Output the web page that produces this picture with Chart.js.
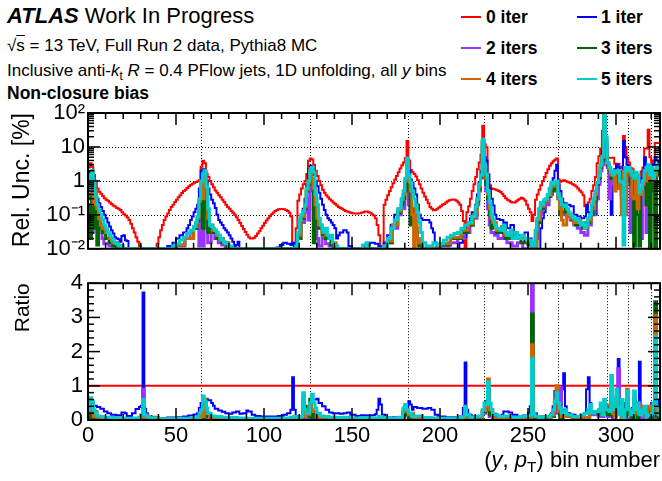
<!DOCTYPE html>
<html><head><meta charset="utf-8">
<script src="https://cdn.jsdelivr.net/npm/chart.js@4/dist/chart.umd.min.js"></script>
<style>
body{margin:0;background:#fff;}
#wrap{position:relative;width:662px;height:481px;overflow:hidden;font-family:"Liberation Sans",Arial,Helvetica,sans-serif;color:#000;}
.t{position:absolute;white-space:nowrap;line-height:1;}
canvas{position:absolute;left:0;}
.leg{position:absolute;font-weight:bold;font-size:17.5px;line-height:1;white-space:nowrap;}
.sw{position:absolute;height:2px;width:20px;}
sub{font-size:0.7em;vertical-align:-0.3em;line-height:0;}
</style></head><body>
<div id="wrap">
 <div class="t" style="left:7px;top:5px;font-size:22px;"><b><i>ATLAS</i></b> Work In Progress</div>
 <div class="t" style="left:7px;top:37px;font-size:17px;">√<span style="text-decoration:overline">s</span> = 13 TeV, Full Run 2 data, Pythia8 MC</div>
 <div class="t" style="left:7px;top:62px;font-size:17px;">Inclusive anti-<i>k</i><sub>t</sub> <i>R</i> = 0.4 PFlow jets, 1D unfolding, all <i>y</i> bins</div>
 <div class="t" style="left:7px;top:85px;font-size:17.5px;font-weight:bold;">Non-closure bias</div>
 <div id="legend"></div>
 <canvas id="cTop" width="662" height="265" style="top:0px"></canvas>
 <canvas id="cBot" width="662" height="216" style="top:265px"></canvas>
 <div class="t" style="right:2px;top:449px;font-size:22px;">(<i>y</i>, <i>p</i><sub>T</sub>) bin number</div>
</div>
<script>
// ---------------- data ----------------
const X_MAX = 325;
const yBinEdges = [64, 126, 182, 225, 267, 295, 307, 320];
const xTicks = [0, 50, 100, 150, 200, 250, 300];
const logTicks = [0.01, 0.1, 1, 10, 100];
const logLabels = ['10⁻²', '10⁻¹', '1', '10', '10²'];
const ratioTicks = [0, 1, 2, 3, 4];
const seriesNames = ['0 iter', '1 iter', '2 iters', '3 iters', '4 iters', '5 iters'];
const seriesColors = ['#ff0000', '#0000ff', '#9933ff', '#006600', '#cc6600', '#00cccc'];

// Top panel: relative uncertainty [%], [bin, value] (value holds until next bin)
const iter0Top = [[0,2.5],[1,3.3],[2,2.6],[3,1.5],[4,0.9],[5,0.6],[6,0.48],[7,0.42],[8,0.36],[9,0.31],[10,0.28],[11,0.26],[12,0.23],[13,0.21],[14,0.19],[15,0.175],[16,0.16],[17,0.15],[18,0.14],[19,0.12],[20,0.105],[21,0.095],[22,0.083],[23,0.07],[24,0.055],[25,0.04],[26,0.03],[27,0.022],[28,0.016],[29,0.012],[30,0.01],[39,0.014],[40,0.022],[41,0.035],[42,0.05],[43,0.07],[44,0.09],[45,0.11],[46,0.14],[47,0.17],[48,0.2],[49,0.24],[50,0.28],[51,0.33],[52,0.38],[53,0.44],[54,0.5],[55,0.55],[56,0.62],[57,0.7],[58,0.76],[59,0.82],[60,0.88],[61,0.93],[62,0.98],[63,1.05],[64,2.6],[65,3.9],[66,3.3],[67,1.6],[68,1.3],[69,1.0],[70,0.8],[71,0.65],[72,0.52],[73,0.45],[74,0.38],[75,0.33],[76,0.28],[77,0.24],[78,0.2],[79,0.17],[80,0.15],[81,0.13],[82,0.115],[83,0.1],[84,0.085],[85,0.07],[86,0.058],[87,0.047],[88,0.038],[89,0.031],[90,0.026],[91,0.022],[92,0.02],[94,0.021],[95,0.024],[96,0.028],[97,0.033],[98,0.04],[99,0.048],[100,0.058],[101,0.068],[102,0.08],[103,0.092],[104,0.105],[105,0.118],[106,0.13],[107,0.138],[108,0.145],[109,0.148],[111,0.145],[112,0.14],[113,0.13],[114,0.115],[115,0.09],[116,0.013],[118,0.04],[119,0.26],[120,0.4],[121,0.6],[122,0.8],[123,1.0],[124,1.6],[125,3.9],[126,4.6],[127,4.3],[128,3.0],[129,2.0],[130,1.4],[131,1.0],[132,0.75],[133,0.55],[134,0.45],[135,0.38],[136,0.33],[137,0.29],[138,0.26],[139,0.23],[140,0.21],[141,0.19],[142,0.17],[143,0.16],[144,0.15],[145,0.14],[146,0.13],[147,0.125],[148,0.12],[149,0.115],[150,0.112],[151,0.11],[154,0.112],[155,0.115],[156,0.12],[157,0.125],[159,0.12],[160,0.115],[161,0.105],[162,0.095],[163,0.08],[164,0.05],[165,0.025],[166,0.012],[168,0.2],[169,0.28],[170,0.38],[171,0.5],[172,0.65],[173,0.85],[174,1.1],[175,1.4],[176,1.8],[177,2.3],[178,2.9],[179,3.5],[180,4.7],[181,15],[182,4.0],[183,2.1],[184,1.8],[185,1.6],[186,1.35],[187,1.05],[188,0.8],[189,0.6],[190,0.45],[191,0.35],[192,0.28],[193,0.22],[194,0.17],[195,0.15],[196,0.137],[197,0.14],[198,0.15],[199,0.165],[200,0.18],[201,0.2],[202,0.21],[203,0.23],[204,0.25],[205,0.27],[206,0.28],[207,0.285],[208,0.28],[209,0.26],[210,0.23],[211,0.2],[212,0.13],[213,0.066],[214,0.01],[215,0.12],[216,0.18],[217,0.3],[218,0.5],[219,0.8],[220,1.3],[221,2.2],[222,3.5],[223,5.9],[224,42],[225,12],[226,9.8],[227,1.6],[228,0.75],[229,0.6],[230,0.58],[231,0.56],[232,0.53],[233,0.5],[234,0.47],[235,0.42],[236,0.36],[237,0.31],[238,0.28],[239,0.26],[240,0.24],[241,0.23],[243,0.25],[244,0.28],[245,0.3],[246,0.32],[247,0.3],[248,0.26],[249,0.2],[250,0.15],[251,0.12],[252,0.066],[253,0.1],[254,0.28],[255,0.4],[256,0.55],[257,0.75],[258,1.0],[259,1.3],[260,1.7],[261,2.2],[262,2.8],[263,3.3],[264,3.8],[265,4.2],[266,4.6],[267,1.1],[268,0.95],[269,1.0],[270,1.05],[271,1.0],[272,0.95],[273,0.9],[274,0.85],[275,0.8],[276,0.75],[277,0.68],[278,0.6],[279,0.52],[280,0.46],[281,0.38],[282,0.18],[283,0.15],[284,0.23],[285,0.3],[286,0.5],[287,0.74],[288,1.3],[289,3.3],[290,5.3],[291,9],[292,30],[293,90],[294,8],[295,4.8],[297,4.8],[299,3.2],[300,2.8],[301,3.2],[302,2.6],[303,2.4],[304,21],[305,10],[306,4.8],[307,3.5],[308,2.4],[309,2.2],[310,1.6],[311,1.2],[312,0.6],[313,1.0],[314,1.9],[315,2.5],[316,9],[317,9],[318,32],[319,5],[320,3],[321,4],[322,13],[324,13],[325,13]];
const iter1Top = [[0,1.5],[1,1.9],[2,1.8],[3,0.9],[4,0.45],[5,0.3],[6,0.22],[7,0.17],[8,0.13],[9,0.1],[10,0.08],[11,0.06],[12,0.045],[13,0.035],[14,0.028],[15,0.022],[16,0.02],[17,0.019],[18,0.016],[19,0.024],[20,0.025],[21,0.018],[22,0.017],[23,0.01],[45,0.012],[48,0.015],[50,0.02],[52,0.025],[54,0.03],[56,0.04],[57,0.05],[58,0.07],[59,0.09],[60,0.12],[61,0.15],[62,0.2],[63,0.6],[64,2.0],[65,2.2],[66,1.9],[67,1.0],[68,0.6],[69,0.4],[70,0.28],[71,0.22],[72,0.16],[73,0.1],[74,0.07],[75,0.06],[76,0.05],[77,0.04],[78,0.035],[79,0.03],[80,0.025],[81,0.02],[82,0.016],[83,0.012],[84,0.013],[85,0.016],[86,0.01],[107,0.011],[109,0.013],[111,0.015],[113,0.014],[115,0.013],[116,0.015],[117,0.012],[118,0.01],[119,0.02],[120,0.05],[121,0.1],[122,0.15],[123,0.3],[124,0.8],[125,2.3],[126,2.8],[127,2.0],[128,1.5],[129,1.0],[130,0.7],[131,0.45],[132,0.3],[133,0.2],[134,0.14],[135,0.1],[136,0.08],[137,0.07],[138,0.06],[139,0.05],[140,0.04],[141,0.02],[142,0.025],[143,0.03],[145,0.035],[147,0.03],[148,0.012],[150,0.01],[157,0.013],[160,0.015],[163,0.014],[165,0.012],[166,0.01],[168,0.015],[170,0.025],[172,0.05],[174,0.1],[176,0.15],[178,0.25],[179,0.4],[180,0.8],[181,3.5],[182,2.0],[183,1.1],[184,0.9],[185,0.6],[186,0.4],[187,0.2],[188,0.1],[189,0.08],[190,0.07],[192,0.07],[194,0.06],[195,0.04],[196,0.03],[197,0.015],[198,0.01],[211,0.015],[213,0.022],[215,0.05],[217,0.08],[218,0.12],[220,0.2],[221,0.4],[222,0.9],[223,2.0],[224,16.5],[225,5],[226,4],[227,1.5],[228,0.6],[229,0.3],[230,0.19],[231,0.1],[232,0.075],[234,0.07],[236,0.05],[237,0.06],[238,0.04],[240,0.05],[242,0.03],[244,0.025],[246,0.015],[248,0.03],[250,0.02],[252,0.01],[257,0.04],[258,0.08],[259,0.12],[260,0.25],[262,0.5],[263,0.8],[264,1.2],[265,2.0],[266,3.0],[267,0.8],[268,0.5],[269,0.3],[270,0.22],[272,0.2],[274,0.18],[276,0.1],[278,0.09],[280,0.08],[282,0.09],[283,0.2],[284,0.12],[286,0.1],[288,0.1],[289,0.5],[290,1.2],[291,2.5],[292,8],[293,60],[294,6],[295,3],[296,1.5],[297,0.1],[298,1.5],[299,2.2],[300,3],[301,2.5],[302,1.5],[303,2.0],[304,15],[305,5],[306,3],[307,2.0],[308,1.2],[309,1.0],[310,0.8],[311,0.9],[314,1.2],[315,2],[316,5],[317,3],[318,1.2],[319,1.5],[320,2.5],[321,3],[322,5],[323,4],[324,3],[325,3]];
const iter2Top = [[0,0.3],[1,1.2],[2,0.03],[3,0.6],[4,0.2],[5,0.1],[6,0.05],[8,0.02],[9,0.014],[12,0.012],[15,0.015],[17,0.012],[20,0.01],[50,0.012],[55,0.02],[58,0.03],[60,0.04],[62,0.06],[63,0.012],[64,0.5],[65,0.012],[66,1.5],[67,0.1],[68,0.015],[70,0.03],[72,0.02],[74,0.015],[76,0.013],[78,0.01],[119,0.02],[121,0.06],[123,0.12],[124,0.3],[125,0.07],[126,1.8],[127,0.5],[128,0.15],[129,0.05],[130,0.02],[131,0.012],[133,0.02],[135,0.014],[137,0.012],[139,0.01],[170,0.015],[173,0.04],[176,0.1],[178,0.2],[179,0.15],[180,0.5],[181,3.5],[182,0.2],[183,0.06],[184,0.1],[185,0.05],[186,0.03],[187,0.02],[188,0.012],[190,0.01],[200,0.012],[205,0.015],[210,0.02],[214,0.03],[217,0.05],[219,0.08],[221,0.2],[222,0.5],[223,1.2],[224,10],[225,1.5],[226,0.5],[227,0.15],[228,0.05],[229,0.03],[231,0.025],[233,0.02],[236,0.03],[238,0.015],[241,0.012],[244,0.015],[247,0.01],[254,0.02],[256,0.1],[258,0.15],[260,0.2],[262,0.4],[264,0.6],[266,0.7],[267,0.3],[268,0.12],[270,0.1],[272,0.09],[274,0.07],[276,0.05],[278,0.04],[280,0.03],[282,0.025],[284,0.05],[286,0.1],[288,0.3],[290,0.8],[291,2],[292,3],[293,80],[294,4],[295,2.5],[296,0.3],[297,1.5],[298,0.8],[299,1.2],[300,1.5],[301,0.6],[302,0.9],[303,0.3],[304,1.5],[305,0.8],[306,1.5],[307,1.0],[308,0.03],[309,0.7],[310,1.5],[311,1.0],[312,1.2],[313,0.4],[314,0.02],[315,0.6],[316,1.5],[317,0.03],[318,0.3],[319,1.0],[320,2.0],[321,0.8],[322,0.04],[323,1.5],[324,2.5],[325,2.5]];
const iter3Top = [[0,0.2],[1,0.02],[2,1.5],[3,0.04],[4,0.3],[5,0.013],[6,0.06],[7,0.04],[8,0.03],[10,0.02],[12,0.015],[14,0.012],[16,0.01],[50,0.013],[55,0.02],[60,0.04],[62,0.07],[63,0.2],[64,0.8],[65,0.04],[66,1.8],[67,0.3],[68,0.03],[69,0.04],[71,0.03],[73,0.02],[76,0.015],[79,0.01],[119,0.02],[121,0.08],[123,0.15],[124,0.5],[125,0.8],[126,2.2],[127,1.0],[128,0.015],[129,0.3],[130,0.06],[131,0.04],[133,0.025],[135,0.02],[138,0.013],[140,0.01],[170,0.015],[173,0.05],[176,0.12],[178,0.2],[179,0.3],[180,0.9],[181,4],[182,0.5],[183,0.05],[184,0.15],[185,0.08],[186,0.04],[187,0.02],[188,0.012],[190,0.01],[200,0.013],[206,0.02],[212,0.03],[216,0.05],[219,0.1],[221,0.25],[222,0.6],[223,1.3],[224,14],[225,2],[226,0.8],[227,0.3],[228,0.1],[229,0.04],[230,0.05],[232,0.03],[235,0.04],[237,0.02],[240,0.025],[243,0.02],[246,0.015],[250,0.013],[253,0.012],[255,0.06],[257,0.15],[259,0.25],[261,0.35],[263,0.5],[265,0.8],[266,0.9],[267,0.35],[268,0.1],[269,0.2],[271,0.12],[273,0.1],[275,0.07],[277,0.05],[279,0.06],[281,0.04],[283,0.06],[285,0.1],[287,0.25],[289,0.8],[290,1.2],[291,2.5],[292,4],[293,85],[294,10],[295,3],[296,2.0],[297,1.2],[298,1.8],[299,1.5],[300,1.8],[301,0.8],[302,1.2],[303,0.4],[304,1.8],[305,2.5],[306,1.5],[307,2],[308,0.8],[309,1.2],[310,0.012],[311,0.3],[312,0.1],[313,0.012],[314,0.5],[315,0.8],[316,1.5],[317,0.2],[318,2.0],[319,0.01],[320,2.0],[321,0.5],[322,0.01],[323,1.5],[324,2.0],[325,2.0]];
const iter4Top = [[0,0.4],[1,1.0],[2,1.8],[3,0.2],[4,0.5],[5,0.15],[6,0.08],[7,0.05],[8,0.04],[10,0.03],[12,0.02],[14,0.015],[17,0.012],[19,0.01],[50,0.013],[55,0.02],[60,0.045],[62,0.08],[63,0.25],[64,0.9],[65,0.3],[66,1.9],[67,0.5],[68,0.08],[69,0.05],[71,0.035],[73,0.025],[75,0.02],[77,0.015],[80,0.01],[119,0.025],[121,0.09],[123,0.17],[124,0.55],[125,0.9],[126,2.3],[127,1.2],[128,0.6],[129,0.2],[130,0.08],[131,0.05],[133,0.03],[135,0.025],[137,0.02],[139,0.015],[141,0.01],[170,0.017],[173,0.05],[176,0.13],[178,0.28],[179,0.4],[180,1.0],[181,4.3],[182,1.0],[183,0.5],[184,0.1],[185,0.01],[186,0.2],[187,0.02],[188,0.015],[190,0.01],[200,0.014],[206,0.022],[212,0.035],[216,0.055],[219,0.1],[221,0.28],[222,0.7],[223,1.4],[224,15],[225,2.5],[226,1.2],[227,0.4],[228,0.15],[229,0.08],[230,0.06],[232,0.035],[235,0.045],[237,0.025],[240,0.03],[243,0.02],[246,0.02],[250,0.015],[253,0.012],[255,0.07],[257,0.18],[259,0.25],[261,0.38],[263,0.7],[265,0.85],[266,0.95],[267,0.3],[268,0.15],[269,0.07],[270,0.05],[272,0.1],[274,0.08],[276,0.06],[278,0.07],[280,0.05],[282,0.045],[284,0.07],[286,0.15],[288,0.4],[289,0.9],[290,1.4],[291,2.8],[292,5],[293,86],[294,15],[295,3.3],[296,2.2],[297,1.5],[298,1.6],[299,0.5],[300,1.7],[301,1.9],[302,0.6],[303,0.1],[304,1.9],[305,0.1],[306,1.8],[307,2.2],[308,1.5],[309,0.35],[310,0.3],[311,1.5],[312,0.15],[313,0.4],[315,0.8],[316,1.8],[317,1.0],[318,2.5],[319,1.2],[320,2.2],[321,1.0],[322,1.5],[323,2.5],[324,2.2],[325,2.2]];
const iter5Top = [[0,0.5],[1,1.5],[2,2.0],[3,1.0],[4,0.35],[5,0.2],[6,0.14],[7,0.1],[8,0.07],[9,0.05],[10,0.04],[11,0.03],[12,0.025],[13,0.022],[14,0.018],[15,0.015],[16,0.014],[17,0.013],[18,0.012],[19,0.011],[20,0.01],[48,0.012],[50,0.014],[52,0.018],[54,0.022],[56,0.028],[58,0.035],[60,0.045],[61,0.06],[62,0.09],[63,0.3],[64,1.0],[65,1.6],[66,2.0],[67,0.7],[68,0.15],[69,0.05],[70,0.045],[71,0.04],[72,0.035],[73,0.03],[74,0.025],[75,0.02],[76,0.018],[77,0.016],[78,0.014],[80,0.012],[82,0.01],[118,0.012],[119,0.03],[120,0.07],[121,0.1],[122,0.13],[123,0.2],[124,0.6],[125,1.0],[126,2.0],[127,2.5],[128,1.8],[129,0.4],[130,0.2],[131,0.08],[132,0.05],[133,0.035],[134,0.03],[135,0.04],[136,0.025],[137,0.02],[138,0.025],[139,0.015],[140,0.012],[142,0.01],[156,0.013],[158,0.015],[159,0.01],[168,0.012],[170,0.02],[172,0.04],[174,0.07],[176,0.15],[178,0.3],[179,0.5],[180,1.2],[181,4.7],[182,1.5],[183,0.9],[184,0.5],[185,0.3],[186,0.18],[187,0.12],[188,0.06],[189,0.03],[190,0.015],[192,0.012],[196,0.015],[198,0.013],[200,0.014],[202,0.018],[204,0.022],[206,0.025],[208,0.028],[210,0.03],[212,0.04],[214,0.05],[216,0.06],[218,0.09],[220,0.18],[221,0.3],[222,0.8],[223,1.5],[224,17],[225,3],[226,1.6],[227,0.5],[228,0.23],[229,0.1],[230,0.07],[231,0.05],[232,0.04],[234,0.035],[236,0.05],[237,0.03],[238,0.025],[240,0.035],[241,0.02],[243,0.03],[244,0.02],[246,0.025],[248,0.02],[250,0.018],[252,0.012],[254,0.035],[255,0.08],[256,0.15],[257,0.23],[258,0.2],[259,0.28],[260,0.3],[261,0.4],[262,0.6],[263,0.9],[264,0.8],[265,0.9],[266,1.0],[267,0.4],[268,0.3],[269,0.2],[270,0.18],[271,0.2],[272,0.15],[273,0.12],[274,0.1],[275,0.09],[276,0.08],[277,0.07],[278,0.08],[279,0.06],[280,0.05],[281,0.06],[282,0.04],[283,0.05],[284,0.08],[285,0.1],[286,0.2],[287,0.3],[288,0.5],[289,0.9],[290,1.5],[291,3],[292,5.3],[293,88],[294,20],[295,3.5],[296,2.5],[297,1.8],[298,1.5],[299,2.0],[300,1.8],[301,2.0],[302,1.0],[303,0.9],[304,0.013],[305,2.5],[306,2.0],[307,2.5],[308,2.0],[309,1.5],[310,1.2],[311,1.8],[312,1.5],[313,0.45],[314,0.6],[315,1.0],[316,2.0],[317,2.5],[318,3.0],[319,1.5],[320,2.5],[321,1.2],[322,2.0],[323,3.0],[324,2.5],[325,2.5]];

// Bottom panel: ratio to 0 iter, [bin, value]
const iter0Ratio = [[0,1],[325,1]];
const iter1Ratio = [[0,0.6],[2,0.5],[3,0.42],[5,0.38],[7,0.33],[9,0.25],[11,0.2],[13,0.15],[16,0.14],[18,0.13],[19,0.22],[21,0.2],[22,0.12],[24,0.12],[25,0.2],[27,0.32],[29,0.38],[30,0.42],[31,3.73],[32,0.33],[33,0.2],[34,0.12],[36,0.08],[40,0.06],[45,0.07],[50,0.08],[54,0.1],[57,0.13],[60,0.16],[62,0.2],[63,0.35],[64,0.5],[65,0.45],[66,0.6],[67,0.62],[68,0.58],[70,0.5],[71,0.42],[72,0.33],[74,0.28],[76,0.24],[78,0.2],[80,0.18],[82,0.22],[84,0.25],[86,0.18],[88,0.2],[90,0.28],[91,0.25],[93,0.15],[95,0.12],[98,0.1],[104,0.1],[108,0.12],[111,0.15],[113,0.2],[115,0.3],[116,1.25],[117,0.3],[118,0.12],[120,0.06],[122,0.05],[124,0.1],[126,0.62],[128,0.6],[130,0.62],[131,0.5],[133,0.4],[135,0.3],[137,0.22],[139,0.2],[143,0.18],[145,0.2],[147,0.22],[149,0.15],[152,0.12],[155,0.14],[158,0.13],[161,0.14],[163,0.17],[164,0.3],[165,0.62],[166,0.45],[167,0.15],[169,0.08],[174,0.07],[178,0.08],[180,0.25],[181,0.35],[182,0.55],[183,0.45],[184,0.3],[185,0.38],[187,0.35],[190,0.33],[193,0.35],[195,0.3],[197,0.15],[199,0.1],[203,0.08],[208,0.08],[211,0.1],[213,0.35],[214,1.68],[215,0.3],[216,0.15],[218,0.1],[222,0.12],[224,0.2],[225,0.35],[226,0.55],[227,0.8],[228,0.5],[229,0.3],[230,0.18],[232,0.12],[235,0.15],[236,0.25],[239,0.22],[241,0.15],[244,0.12],[247,0.13],[250,0.2],[251,0.4],[252,0.35],[253,0.2],[255,0.1],[258,0.1],[261,0.12],[263,0.2],[264,0.4],[265,0.85],[266,0.55],[267,0.4],[268,0.25],[269,0.9],[270,1.37],[271,0.4],[272,0.2],[274,0.15],[277,0.12],[280,0.15],[282,0.2],[283,0.9],[284,1.25],[285,0.5],[286,0.25],[288,0.2],[290,0.3],[292,0.25],[294,0.4],[296,0.3],[297,0.5],[298,0.3],[299,0.6],[300,0.5],[301,1.78],[302,0.6],[303,0.3],[304,0.5],[305,0.2],[307,0.3],[309,0.35],[310,0.7],[311,0.4],[312,0.3],[313,1.7],[314,0.3],[315,0.2],[317,0.3],[319,0.15],[320,0.5],[321,0.3],[322,0.2],[323,0.6],[324,0.3],[325,0.3]];
const iter2Ratio = [[0,0.1],[1,0.6],[2,0.1],[3,0.25],[5,0.05],[8,0.03],[15,0.02],[25,0.03],[30,0.1],[31,0.9],[32,0.1],[33,0.15],[34,0.05],[40,0.02],[55,0.03],[62,0.05],[64,0.1],[65,0.05],[66,0.4],[67,0.02],[69,0.05],[75,0.03],[90,0.02],[110,0.03],[120,0.05],[122,0.3],[124,0.05],[126,0.4],[127,0.1],[129,0.05],[135,0.03],[150,0.02],[165,0.05],[175,0.03],[179,0.15],[180,0.2],[181,0.15],[182,0.05],[186,0.03],[200,0.02],[213,0.05],[214,0.2],[215,0.05],[224,0.2],[226,0.3],[227,0.7],[228,0.1],[230,0.05],[240,0.03],[250,0.05],[252,4.5],[253,0.05],[256,0.05],[263,0.1],[265,0.4],[266,0.2],[268,0.95],[269,0.3],[271,0.1],[280,0.05],[285,0.15],[290,0.1],[293,0.3],[295,0.1],[297,0.6],[298,0.05],[300,0.5],[301,1.5],[302,0.3],[303,0.05],[306,0.3],[308,0.02],[310,0.4],[312,0.05],[313,0.5],[314,0.05],[316,0.2],[318,0.02],[320,0.1],[322,0.05],[323,0.2],[325,0.2]];
const iter3Ratio = [[0,0.15],[1,0.02],[2,0.3],[3,0.05],[5,0.04],[8,0.03],[15,0.02],[30,0.05],[31,0.4],[32,0.05],[40,0.02],[60,0.04],[64,0.2],[65,0.03],[66,0.5],[67,0.1],[69,0.04],[80,0.02],[110,0.03],[121,0.06],[122,0.4],[124,0.1],[126,0.6],[127,0.01],[128,0.2],[130,0.05],[140,0.03],[160,0.02],[178,0.05],[179,0.25],[180,0.3],[181,0.15],[182,0.02],[185,0.04],[200,0.02],[213,0.06],[214,0.3],[215,0.05],[224,0.25],[226,0.35],[227,1.0],[228,0.15],[230,0.05],[240,0.04],[250,0.06],[252,3.1],[253,0.06],[256,0.06],[263,0.12],[265,0.5],[266,0.7],[267,0.3],[268,0.05],[270,0.15],[275,0.07],[285,0.2],[290,0.2],[293,0.4],[295,0.15],[297,0.8],[298,0.1],[300,0.6],[301,0.3],[303,0.5],[304,0.1],[306,0.6],[307,0.2],[309,0.01],[310,0.5],[312,0.02],[313,0.3],[315,0.2],[317,0.1],[318,0.3],[319,0.01],[321,0.3],[322,3.46],[323,0.1],[324,0.01],[325,0.01]];
const iter4Ratio = [[0,0.25],[1,0.4],[2,0.45],[3,0.1],[4,0.25],[5,0.08],[8,0.05],[15,0.03],[30,0.08],[31,0.5],[32,0.08],[40,0.03],[60,0.05],[64,0.25],[65,0.1],[66,0.6],[67,0.2],[69,0.06],[80,0.04],[110,0.04],[121,0.08],[122,0.7],[123,0.1],[124,0.15],[126,0.5],[127,0.3],[128,0.25],[130,0.08],[140,0.05],[160,0.04],[178,0.06],[179,0.3],[180,0.4],[181,0.25],[182,0.15],[183,0.2],[185,0.01],[186,0.05],[200,0.03],[213,0.08],[214,0.35],[215,0.08],[224,0.28],[226,0.4],[227,1.2],[228,0.3],[230,0.06],[240,0.05],[250,0.08],[252,2.2],[253,0.1],[256,0.08],[263,0.15],[265,0.6],[266,1.0],[267,0.3],[268,0.25],[269,0.1],[272,0.12],[275,0.08],[285,0.25],[290,0.25],[293,0.45],[295,0.3],[297,0.9],[298,0.2],[299,0.1],[300,0.7],[301,0.3],[303,0.05],[304,0.3],[306,0.9],[307,0.3],[309,0.2],[310,0.6],[311,0.2],[313,0.4],[315,0.3],[317,0.15],[318,0.4],[320,0.3],[321,0.4],[322,3.05],[323,0.2],[325,0.2]];
const iter5Ratio = [[0,0.3],[1,0.65],[2,0.55],[3,0.3],[4,0.2],[5,0.12],[7,0.1],[9,0.08],[12,0.07],[16,0.06],[20,0.05],[25,0.06],[29,0.08],[30,0.15],[31,0.6],[32,0.15],[33,0.1],[35,0.06],[40,0.04],[50,0.05],[58,0.06],[62,0.08],[63,0.2],[64,0.3],[65,0.7],[66,0.55],[67,0.35],[68,0.2],[70,0.12],[72,0.1],[76,0.08],[80,0.07],[85,0.06],[90,0.05],[110,0.06],[115,0.08],[117,0.1],[119,0.08],[121,0.1],[122,0.8],[123,0.3],[124,0.2],[126,0.5],[127,0.75],[128,0.5],[129,0.35],[130,0.2],[132,0.12],[134,0.1],[137,0.08],[141,0.07],[145,0.08],[150,0.06],[155,0.07],[160,0.06],[165,0.1],[167,0.07],[172,0.05],[177,0.08],[179,0.35],[180,0.45],[181,0.3],[182,0.2],[184,0.1],[186,0.12],[190,0.07],[195,0.06],[200,0.05],[205,0.06],[210,0.07],[213,0.1],[214,0.4],[215,0.15],[217,0.08],[220,0.1],[222,0.12],[224,0.3],[225,0.5],[226,0.45],[227,1.12],[228,0.5],[229,0.3],[230,0.15],[233,0.1],[236,0.12],[240,0.08],[245,0.1],[249,0.12],[251,0.15],[252,1.8],[253,0.2],[254,0.1],[256,0.08],[260,0.1],[263,0.15],[264,0.3],[265,0.55],[266,0.8],[267,0.5],[268,0.35],[269,0.2],[271,0.3],[272,0.15],[275,0.1],[278,0.1],[280,0.15],[282,0.2],[284,0.3],[285,0.45],[286,0.2],[288,0.25],[290,0.3],[291,0.5],[292,0.15],[293,0.6],[294,0.3],[296,0.25],[297,1.3],[298,0.3],[299,0.6],[300,0.9],[301,0.35],[302,0.15],[303,0.6],[304,0.05],[305,0.3],[306,0.85],[307,0.3],[308,0.15],[309,0.2],[310,0.85],[311,0.3],[312,0.5],[313,0.15],[314,0.3],[315,0.2],[316,0.4],[317,0.1],[318,0.15],[320,0.2],[321,0.5],[322,2.45],[323,0.4],[324,0.15],[325,0.15]];

const topSeries = [iter0Top, iter1Top, iter2Top, iter3Top, iter4Top, iter5Top];
const ratioSeries = [iter0Ratio, iter1Ratio, iter2Ratio, iter3Ratio, iter4Ratio, iter5Ratio];
const lineWidths = [2, 2, 3, 3, 3, 3];

// ---------------- rendering ----------------
const FONT = '"Liberation Sans", Arial, Helvetica, sans-serif';
Chart.defaults.font.family = FONT;
Chart.defaults.color = '#000';

function toPts(pairs) {
  const p = pairs.map(([x, y]) => ({x, y}));
  if (p[p.length - 1].x < X_MAX) p.push({x: X_MAX, y: p[p.length - 1].y});
  return p;
}
function makeDatasets(list) {
  return list.map((s, i) => ({
    label: seriesNames[i], data: toPts(s), borderColor: seriesColors[i],
    backgroundColor: seriesColors[i], borderWidth: lineWidths[i], stepped: true,
    pointRadius: 0, tension: 0, fill: false, order: 5 - i, borderJoinStyle: 'miter'
  }));
}

// legend (HTML)
(function(){
  const leg = document.getElementById('legend');
  const rows = [17, 48, 79], cols = [[461, 486], [577, 601]];
  seriesNames.forEach((n, i) => {
    const r = rows[Math.floor(i / 2)], c = cols[i % 2];
    const sw = document.createElement('div'); sw.className = 'sw';
    sw.style.left = c[0] + 'px'; sw.style.top = (r - 1) + 'px'; sw.style.background = seriesColors[i];
    const tx = document.createElement('div'); tx.className = 'leg';
    tx.style.left = c[1] + 'px'; tx.style.top = (r - 8) + 'px'; tx.textContent = n;
    leg.appendChild(sw); leg.appendChild(tx);
  });
})();

function line(ctx, x1, y1, x2, y2) { ctx.beginPath(); ctx.moveTo(x1, y1); ctx.lineTo(x2, y2); ctx.stroke(); }

function axesPlugin(yTickFn, hGrid) {
  return {
    id: 'rootAxes',
    beforeDatasetsDraw(chart) {
      const {ctx, chartArea: {left, right, top, bottom}, scales: {x, y}} = chart;
      ctx.save();
      ctx.strokeStyle = '#000'; ctx.lineWidth = 1; ctx.setLineDash([1, 2]);
      yBinEdges.forEach(e => { const px = Math.round(x.getPixelForValue(e)) + 0.5; line(ctx, px, top, px, bottom); });
      hGrid.forEach(v => { const py = Math.round(y.getPixelForValue(v)) + 0.5; line(ctx, left, py, right, py); });
      ctx.restore();
    },
    afterDatasetsDraw(chart) {
      const {ctx, chartArea: {left, right, top, bottom}, scales: {x, y}} = chart;
      ctx.save();
      ctx.strokeStyle = '#000'; ctx.lineWidth = 1.5; ctx.setLineDash([]);
      for (let v = 0; v <= X_MAX; v += 10) {
        const px = x.getPixelForValue(v); const len = v % 50 === 0 ? 12 : 6;
        line(ctx, px, bottom, px, bottom - len); line(ctx, px, top, px, top + len);
      }
      yTickFn().forEach(([v, len]) => {
        const py = y.getPixelForValue(v);
        line(ctx, left, py, left + len, py); line(ctx, right, py, right - len, py);
      });
      ctx.lineWidth = 2;
      ctx.strokeRect(left, top, right - left, bottom - top);
      ctx.restore();
    }
  };
}
function logTickList() {
  const out = [];
  [0.01, 0.1, 1, 10].forEach(d => { for (let k = 1; k <= 9; k++) out.push([d * k, k === 1 ? 12 : 6]); });
  out.push([100, 12]);
  return out;
}
function ratioTickList() {
  const out = [];
  for (let i = 0; i <= 20; i++) out.push([i * 0.2, i % 5 === 0 ? 12 : 6]);
  return out;
}

new Chart(document.getElementById('cTop'), {
  type: 'line',
  data: {datasets: makeDatasets(topSeries)},
  options: {
    responsive: false, animation: false, events: [],
    layout: {padding: {left: 0, right: 2, top: 113, bottom: 0}},
    plugins: {legend: {display: false}, tooltip: {enabled: false}},
    scales: {
      x: {type: 'linear', min: 0, max: X_MAX, ticks: {display: false}, grid: {display: false, drawTicks: false}, border: {display: false},
          afterFit(s) { s.height = 5; }},
      y: {type: 'logarithmic', min: 0.01, max: 100,
          grid: {display: false, drawTicks: false}, border: {display: false},
          afterBuildTicks(s) { s.ticks = logTicks.map(v => ({value: v})); },
          ticks: {autoSkip: false, padding: 3, color: '#000', font: {size: 22},
                  callback: (v, i) => logLabels[i]},
          title: {display: true, text: 'Rel. Unc. [%]', align: 'end', color: '#000', font: {size: 23}, padding: {top: 9, bottom: 0}},
          afterFit(s) { s.width = 88; }}
    }
  },
  plugins: [axesPlugin(logTickList, [0.1, 1, 10])]
});

new Chart(document.getElementById('cBot'), {
  type: 'line',
  data: {datasets: makeDatasets(ratioSeries)},
  options: {
    responsive: false, animation: false, events: [],
    layout: {padding: {left: 0, right: 2, top: 8, bottom: 0}},
    plugins: {legend: {display: false}, tooltip: {enabled: false}},
    scales: {
      x: {type: 'linear', min: 0, max: X_MAX,
          afterBuildTicks(s) { s.ticks = xTicks.map(v => ({value: v})); },
          ticks: {autoSkip: false, maxRotation: 0, padding: 3, color: '#000', font: {size: 22}},
          grid: {display: false, drawTicks: false}, border: {display: false},
          afterFit(s) { s.height = 61; }},
      y: {type: 'linear', min: 0, max: 4,
          afterBuildTicks(s) { s.ticks = ratioTicks.map(v => ({value: v})); },
          ticks: {autoSkip: false, padding: 5, color: '#000', font: {size: 22}},
          grid: {display: false, drawTicks: false}, border: {display: false},
          title: {display: true, text: 'Ratio', align: 'end', color: '#000', font: {size: 21}, padding: {top: 11, bottom: 0}},
          afterFit(s) { s.width = 88; }}
    }
  },
  plugins: [axesPlugin(ratioTickList, [])]
});
</script>
</body></html>
